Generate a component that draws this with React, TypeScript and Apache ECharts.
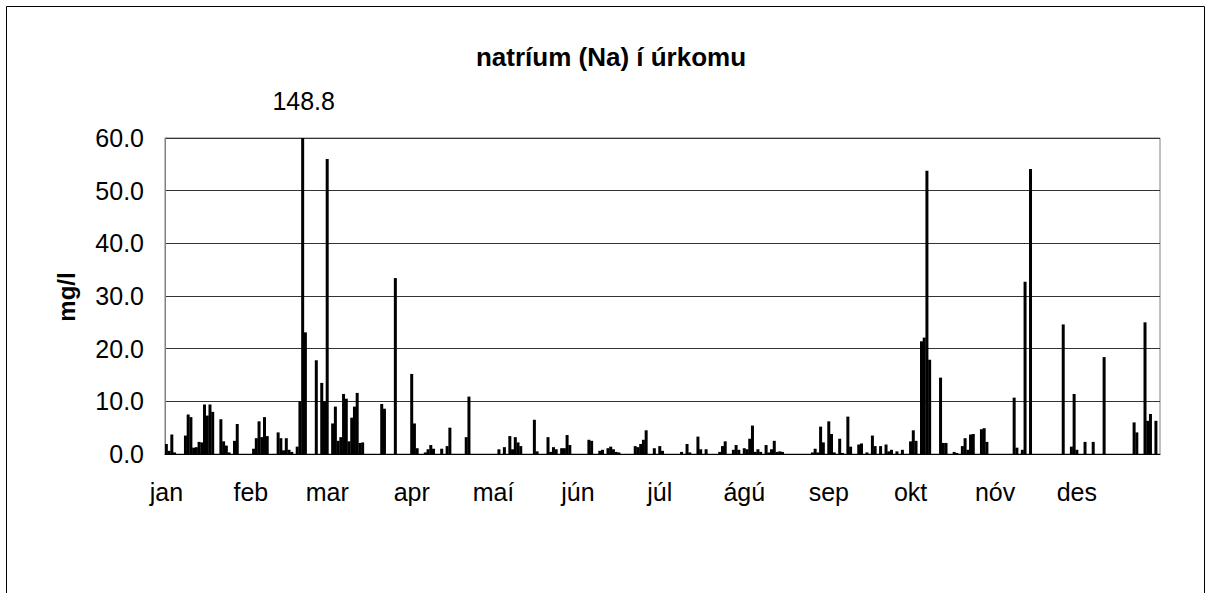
import React, { useEffect, useRef } from "react";
import * as echarts from "echarts";

const monthLabels = ["jan", "feb", "mar", "apr", "maí", "jún", "júl", "ágú", "sep", "okt", "nóv", "des"];
const monthStarts = [0, 31, 59, 90, 120, 151, 181, 212, 243, 273, 304, 334];
const daysInYear = 365;

// day index (0 = 1 Jan) and sodium concentration (mg/l) on days with precipitation samples
const sampleDays = [
  0, 1, 2, 3, 7, 8, 9, 10, 11, 12, 13, 14, 15, 16, 17, 20, 21, 22, 23, 25, 26,
  32, 33, 34, 35, 36, 37, 41, 42, 43, 44, 45, 46, 48, 49, 50, 51, 55, 57, 58, 59,
  61, 62, 63, 64, 65, 66, 67, 68, 69, 70, 71, 72, 79, 80, 84, 90, 91, 92, 95, 96, 97, 98,
  101, 103, 104, 110, 111,
  122, 124, 126, 127, 128, 129, 130, 135, 136, 140, 141, 142, 143, 145, 146, 147, 148,
  155, 156, 159, 160, 162, 163, 164, 165, 166, 172, 173, 174, 175, 176, 179, 181, 182,
  189, 191, 192, 195, 196, 198, 203, 204, 205, 208, 209, 210, 212, 213, 214, 215, 216, 217, 218,
  220, 221, 222, 223, 224, 225, 226,
  237, 238, 239, 240, 241, 243, 244, 245, 247, 248, 250, 251, 254, 255, 257, 259, 260, 262, 264, 265, 266, 268, 270,
  273, 274, 275, 277, 278, 279, 280, 284, 285, 286, 289, 290, 292, 293, 294, 295, 296, 299, 300, 301,
  311, 312, 314, 315, 317, 329, 332, 333, 334, 337, 340, 344, 355, 356, 359, 360, 361, 363
];
const sodiumValues = [
  1.9, 0.6, 3.7, 0.3, 3.5, 7.5, 7.0, 1.2, 1.3, 2.3, 2.2, 9.4, 7.3, 9.4, 8.0, 6.6, 2.4, 1.6, 0.3, 2.5, 5.7,
  1.0, 3.0, 6.2, 3.2, 7.0, 3.4, 4.1, 3.0, 0.7, 3.0, 0.8, 0.4, 1.4, 10.0, 148.8, 23.1, 17.8, 13.5, 10.0, 56.0,
  5.8, 9.0, 2.5, 3.2, 11.4, 10.5, 2.4, 6.9, 9.0, 11.6, 2.1, 2.2, 9.5, 8.6, 33.4, 15.2, 5.8, 1.1, 0.3, 0.9, 1.7, 1.0,
  1.0, 1.5, 5.0, 3.2, 10.9,
  0.9, 1.3, 3.4, 0.9, 3.2, 2.2, 1.5, 6.5, 0.5, 3.2, 0.4, 1.3, 0.9, 1.1, 1.1, 3.6, 1.7,
  2.7, 2.5, 0.6, 0.8, 1.1, 1.4, 0.9, 0.4, 0.3, 1.5, 1.3, 1.9, 2.7, 4.5, 1.1, 1.5, 0.6,
  0.4, 1.9, 0.3, 3.3, 0.9, 0.9, 0.4, 1.5, 2.4, 0.8, 1.7, 0.8, 1.1, 0.9, 2.9, 5.4, 0.4, 0.9, 0.4,
  1.7, 0.3, 0.9, 2.5, 0.4, 0.5, 0.4,
  0.3, 1.0, 0.3, 5.2, 2.2, 6.2, 3.8, 0.3, 2.9, 0.2, 7.1, 1.4, 1.8, 2.0, 0.3, 3.5, 1.5, 1.5, 1.8, 0.5, 0.8, 0.5, 0.8,
  2.4, 4.5, 2.5, 21.4, 22.1, 53.8, 17.9, 14.5, 2.1, 2.1, 0.4, 0.2, 1.5, 3.0, 0.8, 3.7, 3.8, 4.7, 4.9, 2.3,
  10.7, 1.2, 0.8, 32.7, 54.1, 24.6, 1.4, 11.4, 0.8, 2.3, 2.3, 18.4, 6.0, 4.1, 25.0, 6.3, 7.6, 6.3
];

const yTicks = [0, 10, 20, 30, 40, 50, 60];
const chartTitle = "natríum (Na) í úrkomu";
const yAxisTitle = "mg/l";

const FONT = "'Liberation Sans', Arial, Helvetica, sans-serif";

export default function App() {
  const ref = useRef<HTMLDivElement>(null);

  useEffect(() => {
    if (!ref.current) return;
    const chart = echarts.init(ref.current, undefined, { renderer: "svg" });

    const categories: string[] = [];
    const series: (number | null)[] = [];
    for (let d = 0; d < daysInYear; d++) {
      categories.push(String(d));
      series.push(null);
    }
    sampleDays.forEach((d, i) => {
      series[d] = sodiumValues[i];
    });

    let maxIdx = 0;
    sodiumValues.forEach((v, i) => {
      if (v > sodiumValues[maxIdx]) maxIdx = i;
    });
    const yMax = yTicks[yTicks.length - 1];

    chart.setOption({
      animation: false,
      backgroundColor: "#ffffff",
      grid: {
        left: 165,
        right: 51,
        top: 138,
        bottom: 139,
        show: true,
        borderColor: "#808080",
        borderWidth: 1,
        backgroundColor: "transparent",
      },
      xAxis: {
        type: "category",
        data: categories,
        boundaryGap: true,
        axisLine: { show: true, lineStyle: { color: "#000", width: 1 } },
        axisTick: { show: false },
        axisLabel: {
          interval: (idx: number) => monthStarts.includes(idx),
          formatter: (val: string) => {
            const k = monthStarts.indexOf(Number(val));
            return k >= 0 ? monthLabels[k] : "";
          },
          color: "#000",
          fontFamily: FONT,
          fontSize: 25,
          margin: 25,
        },
        splitLine: { show: false },
      },
      yAxis: {
        type: "value",
        min: yTicks[0],
        max: yMax,
        interval: 10,
        axisLine: { show: true, lineStyle: { color: "#808080", width: 1 } },
        axisTick: { show: false },
        axisLabel: {
          formatter: (v: number) => v.toFixed(1),
          color: "#000",
          fontFamily: FONT,
          fontSize: 25,
          margin: 21,
        },
        splitLine: { show: true, lineStyle: { color: "#333", width: 1 } },
      },
      series: [
        {
          type: "bar",
          data: series,
          barWidth: 3,
          clip: true,
          itemStyle: { color: "#000" },
          markPoint: {
            symbol: "circle",
            symbolSize: 0,
            data: [
              {
                coord: [String(sampleDays[maxIdx]), yMax],
                value: sodiumValues[maxIdx],
                label: {
                  show: true,
                  formatter: sodiumValues[maxIdx].toFixed(1),
                  offset: [1, -37],
                  color: "#000",
                  fontFamily: FONT,
                  fontSize: 25,
                },
              },
            ],
          },
        },
      ],
      graphic: [
        {
          type: "rect",
          shape: { x: 6.5, y: 6.5, width: 1198, height: 620 },
          style: { fill: "none", stroke: "#000", lineWidth: 1 },
          z: 0,
        },
        {
          type: "text",
          x: 611,
          y: 57,
          style: {
            text: chartTitle,
            fontFamily: FONT,
            fontSize: 26,
            fontWeight: "bold",
            fill: "#000",
            textAlign: "center",
            textVerticalAlign: "middle",
          },
        },
        {
          type: "text",
          x: 66,
          y: 297,
          rotation: Math.PI / 2,
          style: {
            text: yAxisTitle,
            fontFamily: FONT,
            fontSize: 24,
            fontWeight: "bold",
            fill: "#000",
            textAlign: "center",
            textVerticalAlign: "middle",
          },
        },
      ],
    });

    return () => {
      chart.dispose();
    };
  }, []);

  return (
    <div
      ref={ref}
      style={{ position: "fixed", left: 0, top: 0, width: 1211, height: 593 }}
    />
  );
}
